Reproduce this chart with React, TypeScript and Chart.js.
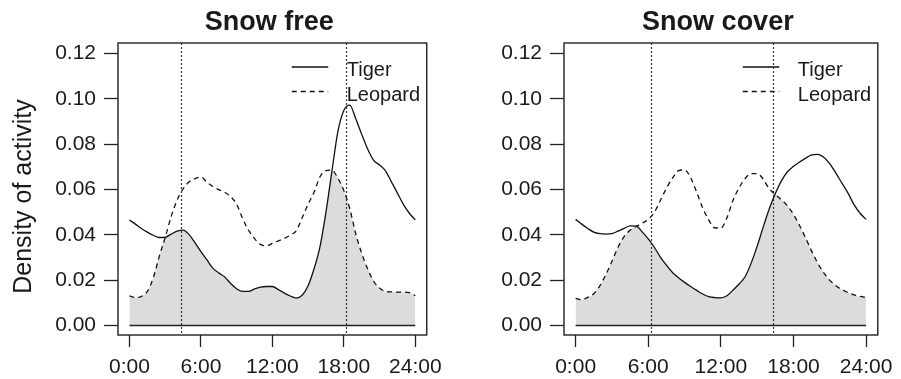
import React, { useEffect, useRef } from "react";
import { Chart, registerables } from "chart.js";

Chart.register(...registerables);

// Hour grid (0:00 .. 24:00 every 30 minutes)
const HOURS = [
  0, 0.5, 1, 1.5, 2, 2.5, 3, 3.5, 4, 4.5, 5, 5.5, 6, 6.5, 7, 7.5, 8, 8.5, 9, 9.5,
  10, 10.5, 11, 11.5, 12, 12.5, 13, 13.5, 14, 14.5, 15, 15.5, 16, 16.5, 17, 17.5,
  18, 18.5, 19, 19.5, 20, 20.5, 21, 21.5, 22, 22.5, 23, 23.5, 24,
];

// Snow free
const FREE_TIGER = [
  0.0465, 0.0447, 0.0428, 0.0412, 0.0398, 0.0388, 0.0389, 0.0403, 0.0416, 0.0421,
  0.0402, 0.0365, 0.0326, 0.029, 0.0253, 0.0232, 0.0214, 0.0185, 0.0162, 0.015,
  0.015, 0.0161, 0.0169, 0.0172, 0.0172, 0.0158, 0.0143, 0.013, 0.0121, 0.0133,
  0.0175, 0.025, 0.0348, 0.05, 0.068, 0.0855, 0.0948, 0.0972, 0.0912, 0.0843,
  0.0778, 0.0728, 0.0708, 0.0682, 0.0633, 0.0584, 0.0534, 0.0495, 0.0466,
];
const FREE_LEOPARD = [
  0.0131, 0.0123, 0.0128, 0.015, 0.021, 0.0304, 0.0388, 0.048, 0.0553, 0.0602,
  0.0633, 0.0648, 0.0655, 0.0632, 0.0613, 0.0599, 0.0588, 0.0568, 0.0535, 0.0472,
  0.042, 0.0383, 0.0358, 0.0352, 0.0362, 0.0373, 0.0384, 0.0398, 0.0418, 0.0475,
  0.0535, 0.0588, 0.0656, 0.0683, 0.0685, 0.065, 0.0595, 0.0515, 0.0405, 0.0318,
  0.025, 0.0195, 0.0165, 0.015, 0.0148, 0.0147, 0.0147, 0.0145, 0.0131,
];

// Snow cover
const COVER_TIGER = [
  0.0468, 0.0447, 0.0428, 0.0412, 0.0405, 0.0403, 0.0405, 0.0416, 0.0428, 0.0439,
  0.0438, 0.0413, 0.0382, 0.0345, 0.0302, 0.0266, 0.0234, 0.021, 0.019, 0.0172,
  0.0155, 0.0139, 0.0127, 0.0123, 0.0122, 0.0131, 0.0156, 0.0183, 0.0215, 0.0275,
  0.035, 0.0435, 0.0515, 0.0582, 0.0638, 0.0678, 0.0702, 0.0721, 0.0738, 0.0752,
  0.0755, 0.0742, 0.0713, 0.0672, 0.0628, 0.0584, 0.0533, 0.0495, 0.0468,
];
const COVER_LEOPARD = [
  0.012, 0.0114, 0.0124, 0.014, 0.0175, 0.0225, 0.0283, 0.0345, 0.0392, 0.042,
  0.0437, 0.0451, 0.0468, 0.0499, 0.0551, 0.0605, 0.065, 0.0683, 0.0686, 0.0652,
  0.0588, 0.0518, 0.0465, 0.043, 0.043, 0.0475, 0.0552, 0.0607, 0.0648, 0.067,
  0.067, 0.0645, 0.0603, 0.0577, 0.0555, 0.0527, 0.049, 0.0441, 0.0386, 0.0328,
  0.0275, 0.0232, 0.0199, 0.0175, 0.0158, 0.0145, 0.0135, 0.0128, 0.0124,
];

// Sunrise / sunset markers (hours)
const FREE_SUN = [4.33, 18.15];
const COVER_SUN = [6.22, 16.33];

const X_TICKS = [0, 6, 12, 18, 24];
const X_LABELS = ["0:00", "6:00", "12:00", "18:00", "24:00"];
const Y_TICKS = [0, 0.02, 0.04, 0.06, 0.08, 0.1, 0.12];
const Y_LABELS = ["0.00", "0.02", "0.04", "0.06", "0.08", "0.10", "0.12"];
const SERIES_NAMES = ["Tiger", "Leopard"];
const TITLES = ["Snow free", "Snow cover"];
const Y_TITLE = "Density of activity";

const FONT = "'Liberation Sans', Arial, Helvetica, sans-serif";
const INK = "#1a1a1a";

type PanelProps = {
  title: string;
  tiger: number[];
  leopard: number[];
  sun: number[];
  axisWidth: number;
  padRight: number;
  showYTitle: boolean;
  left: number;
  width: number;
};

function Panel(p: PanelProps) {
  const ref = useRef<HTMLCanvasElement | null>(null);

  useEffect(() => {
    if (!ref.current) return;
    const overlap = HOURS.map((h, i) => ({ x: h, y: Math.min(p.tiger[i], p.leopard[i]) }));

    const decor = {
      id: "decor",
      afterDatasetsDraw(chart: any) {
        const { ctx, chartArea: a, scales } = chart;
        const xs = scales.x;
        ctx.save();
        // dotted sun lines
        ctx.strokeStyle = "#333";
        ctx.lineWidth = 1.2;
        ctx.setLineDash([2, 2]);
        p.sun.forEach((h) => {
          const px = Math.round(xs.getPixelForValue(h)) + 0.5;
          ctx.beginPath();
          ctx.moveTo(px, a.top);
          ctx.lineTo(px, a.bottom);
          ctx.stroke();
        });
        ctx.restore();
      },
      afterDraw(chart: any) {
        const { ctx, chartArea: a } = chart;
        ctx.save();
        // box
        ctx.strokeStyle = "#222";
        ctx.lineWidth = 1.4;
        ctx.setLineDash([]);
        ctx.strokeRect(a.left, a.top, a.right - a.left, a.bottom - a.top);
        // title
        ctx.fillStyle = INK;
        ctx.font = `bold 27px ${FONT}`;
        ctx.textAlign = "center";
        ctx.textBaseline = "alphabetic";
        ctx.fillText(p.title, (a.left + a.right) / 2 - 3, 29.5);
        // legend
        const lx0 = a.right - 135;
        const lx1 = a.right - 98.5;
        const tx = a.right - 80;
        ctx.lineWidth = 1.3;
        ctx.strokeStyle = "#111";
        ctx.beginPath();
        ctx.moveTo(lx0, 67);
        ctx.lineTo(lx1, 67);
        ctx.stroke();
        ctx.setLineDash([5, 4]);
        ctx.beginPath();
        ctx.moveTo(lx0, 91.5);
        ctx.lineTo(lx1, 91.5);
        ctx.stroke();
        ctx.setLineDash([]);
        ctx.font = `20px ${FONT}`;
        ctx.textAlign = "left";
        ctx.fillText(SERIES_NAMES[0], tx, 76);
        ctx.fillText(SERIES_NAMES[1], tx, 100.5);
        // y title
        if (p.showYTitle) {
          ctx.translate(31, 196.5);
          ctx.rotate(-Math.PI / 2);
          ctx.font = `25px ${FONT}`;
          ctx.textAlign = "center";
          ctx.fillText(Y_TITLE, 0, 0);
        }
        ctx.restore();
      },
    };

    const chart = new Chart(ref.current, {
      type: "line",
      data: {
        datasets: [
          {
            label: "overlap",
            data: overlap,
            borderWidth: 0,
            borderColor: "rgba(0,0,0,0)",
            backgroundColor: "#dcdcdc",
            fill: "origin",
            pointRadius: 0,
            cubicInterpolationMode: "monotone",
            order: 4,
          },
          {
            label: "zero",
            data: [
              { x: X_TICKS[0], y: 0 },
              { x: X_TICKS[X_TICKS.length - 1], y: 0 },
            ],
            borderColor: "#222",
            borderWidth: 1.3,
            pointRadius: 0,
            fill: false,
            order: 3,
          },
          {
            label: SERIES_NAMES[1],
            data: HOURS.map((h, i) => ({ x: h, y: p.leopard[i] })),
            borderColor: "#111",
            borderWidth: 1.3,
            borderDash: [5, 4],
            pointRadius: 0,
            fill: false,
            cubicInterpolationMode: "monotone",
            order: 2,
          },
          {
            label: SERIES_NAMES[0],
            data: HOURS.map((h, i) => ({ x: h, y: p.tiger[i] })),
            borderColor: "#111",
            borderWidth: 1.3,
            pointRadius: 0,
            fill: false,
            cubicInterpolationMode: "monotone",
            order: 1,
          },
        ],
      },
      options: {
        animation: false,
        responsive: false,
        devicePixelRatio: 1,
        layout: { padding: { top: 43, right: p.padRight, left: 0, bottom: 0 } },
        plugins: {
          legend: { display: false },
          title: { display: false },
          tooltip: { enabled: false },
        },
        scales: {
          x: {
            type: "linear",
            min: -0.96,
            max: 24.96,
            afterBuildTicks: (s: any) => {
              s.ticks = X_TICKS.map((v) => ({ value: v }));
            },
            afterFit: (s: any) => {
              s.height = 44;
            },
            ticks: {
              autoSkip: false,
              maxRotation: 0,
              padding: 8,
              color: INK,
              font: { family: FONT, size: 21 },
              callback: (_v: any, i: number) => X_LABELS[i],
            },
            grid: {
              display: true,
              drawOnChartArea: false,
              drawTicks: true,
              tickLength: 12,
              tickColor: "#222",
              tickWidth: 1.3,
            },
            border: { display: false },
          },
          y: {
            type: "linear",
            min: -0.0042,
            max: 0.1246,
            afterBuildTicks: (s: any) => {
              s.ticks = Y_TICKS.map((v) => ({ value: v }));
            },
            afterFit: (s: any) => {
              s.width = p.axisWidth;
            },
            ticks: {
              autoSkip: false,
              padding: 8,
              color: INK,
              font: { family: FONT, size: 21 },
              callback: (_v: any, i: number) => Y_LABELS[i],
            },
            grid: {
              display: true,
              drawOnChartArea: false,
              drawTicks: true,
              tickLength: 14,
              tickColor: "#222",
              tickWidth: 1.3,
            },
            border: { display: false },
          },
        },
      },
      plugins: [decor],
    } as any);

    return () => chart.destroy();
  }, []);

  return (
    <canvas
      ref={ref}
      width={p.width}
      height={379}
      style={{ position: "absolute", left: p.left, top: 0, width: p.width, height: 379 }}
    />
  );
}

export default function App() {
  return (
    <div
      style={{
        position: "fixed",
        left: 0,
        top: 0,
        width: 901,
        height: 379,
        background: "#fff",
        overflow: "hidden",
      }}
    >
      <Panel
        title={TITLES[0]}
        tiger={FREE_TIGER}
        leopard={FREE_LEOPARD}
        sun={FREE_SUN}
        axisWidth={118}
        padRight={11.5}
        showYTitle={true}
        left={0}
        width={450}
      />
      <Panel
        title={TITLES[1]}
        tiger={COVER_TIGER}
        leopard={COVER_LEOPARD}
        sun={COVER_SUN}
        axisWidth={114}
        padRight={15.5}
        showYTitle={false}
        left={450}
        width={451}
      />
    </div>
  );
}
